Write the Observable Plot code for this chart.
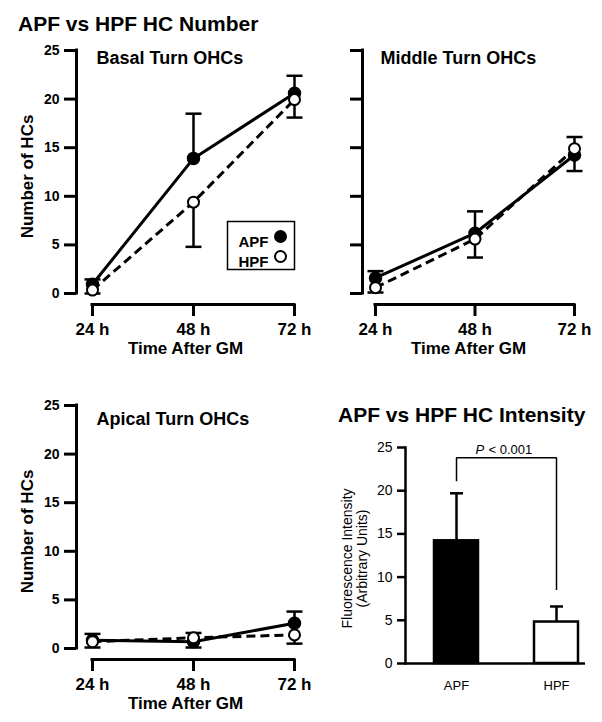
<!DOCTYPE html>
<html>
<head>
<meta charset="utf-8">
<script src="https://cdn.jsdelivr.net/npm/d3@7"></script>
<script src="https://cdn.jsdelivr.net/npm/@observablehq/plot@0.6"></script>
<style>
  html, body { margin: 0; padding: 0; background: #fff; }
  #root { position: relative; width: 602px; height: 722px; background: #fff; overflow: hidden;
          font-family: "Liberation Sans", Arial, Helvetica, sans-serif; color: #000; }
  .title { position: absolute; font-size: 21px; font-weight: bold; line-height: 21px; white-space: nowrap; }
  .panel { position: absolute; }
  .panel svg { overflow: visible; }
</style>
</head>
<body>
<div id="root">
  <div class="title" id="t1" style="left:18px; top:13px;"></div>
  <div class="title" id="t2" style="left:338px; top:404px;"></div>
  <div class="panel" id="pA" style="left:0px; top:0px;"></div>
  <div class="panel" id="pB" style="left:335px; top:0px;"></div>
  <div class="panel" id="pC" style="left:0px; top:360px;"></div>
  <div class="panel" id="pD" style="left:335px; top:360px;"></div>
</div>
<script>
// ---------- data ----------
const mainTitle = "APF vs HPF HC Number";
const barTitle = "APF vs HPF HC Intensity";
const groups = ["APF", "HPF"];
const times = [24, 48, 72];
const timeLabels = ["24 h", "48 h", "72 h"];
const yDomain = [0, 25];
const yTicks = [0, 5, 10, 15, 20, 25];
const xTitle = "Time After GM";
const yTitle = "Number of HCs";

// Basal turn (signed error: + upward bar, - downward bar)
const basalAPF = [0.95, 13.9, 20.6];
const basalAPFErr = [0.5, 4.6, 1.8];
const basalHPF = [0.35, 9.4, 19.95];
const basalHPFErr = [-0.35, -4.6, -1.85];

// Middle turn
const middleAPF = [1.6, 6.2, 14.25];
const middleAPFErr = [0.7, 2.25, -1.65];
const middleHPF = [0.6, 5.6, 14.9];
const middleHPFErr = [-0.5, -1.9, 1.2];

// Apical turn
const apicalAPF = [0.85, 0.7, 2.6];
const apicalAPFErr = [0.65, -0.6, 1.2];
const apicalHPF = [0.7, 1.1, 1.4];
const apicalHPFErr = [-0.6, 0.5, -0.9];

// Intensity bar chart
const intensity = [14.2, 4.8];
const intensityErr = [5.5, 1.8];
const barYLabel = "Fluorescence Intensity\n(Arbitrary Units)";
const pPrefix = "P";
const pText = "< 0.001";
const bracketTop = 23.8;
const bracketEnds = [21.1, 8.5];

const panelTitles = ["Basal Turn OHCs", "Middle Turn OHCs", "Apical Turn OHCs"];

// ---------- helpers ----------
const FONT = "'Liberation Sans', Arial, Helvetica, sans-serif";
const capSymbol = {
  draw(context, size) {
    const r = Math.sqrt(size / Math.PI);
    context.moveTo(-r, 0);
    context.lineTo(r, 0);
  }
};

document.getElementById("t1").textContent = mainTitle;
document.getElementById("t2").textContent = barTitle;

function linePanel(cfg) {
  const data = groups.flatMap((g, gi) =>
    times.map((t, i) => ({g, t, v: cfg.values[gi][i], e: cfg.errs[gi][i]})));
  const apf = data.filter(d => d.g === "APF");
  const hpf = data.filter(d => d.g === "HPF");
  const marks = [
    // offset axis lines
    Plot.ruleX([times[0]], {y1: yDomain[0], y2: yDomain[1], dx: -cfg.insetLeft, strokeWidth: 3, strokeLinecap: "square"}),
    Plot.ruleY([yDomain[0]], {x1: times[0], x2: times[times.length - 1], dy: cfg.insetBottom, strokeWidth: 3, strokeLinecap: "square"}),
    Plot.axisY({ticks: yTicks, tickSize: 12, tickPadding: 5, strokeWidth: 3, fontSize: 14, label: null,
                tickFormat: cfg.yLabels ? (d => String(d)) : (() => "")}),
    Plot.axisX({ticks: times, tickFormat: d => timeLabels[times.indexOf(d)], tickSize: 12, tickPadding: 6,
                strokeWidth: 3, fontSize: 17, label: null}),
    Plot.text([xTitle], {frameAnchor: "bottom", lineAnchor: "top", dy: 37, fontSize: 17}),
    Plot.text([cfg.title], {frameAnchor: "top-left", textAnchor: "start", lineAnchor: "top", dx: cfg.titleDx, dy: cfg.titleDy, fontSize: 18}),
    // series
    Plot.line(apf, {x: "t", y: "v", strokeWidth: 3}),
    Plot.line(hpf, {x: "t", y: "v", strokeWidth: 3, strokeDasharray: "9,5", strokeLinecap: "butt"}),
    Plot.ruleX(data, {x: "t", y1: "v", y2: d => d.v + d.e, strokeWidth: 2.5}),
    Plot.dot(data, {x: "t", y: d => d.v + d.e, symbol: capSymbol, r: 8, stroke: "black", strokeWidth: 2.5}),
    Plot.dot(apf, {x: "t", y: "v", r: 6, fill: "black", stroke: "black", strokeWidth: 1.5}),
    Plot.dot(hpf, {x: "t", y: "v", r: 5.5, fill: "white", stroke: "black", strokeWidth: 2})
  ];
  if (cfg.yLabels) {
    marks.push(Plot.text([yTitle], {frameAnchor: "left", textAnchor: "middle", rotate: -90, dx: -49, dy: -1, fontSize: 17}));
  }
  if (cfg.legend) {
    marks.push(Plot.frame({insetLeft: 151, insetTop: 171, insetBottom: 35, strokeWidth: 1.5}));
    groups.forEach((g, i) => {
      marks.push(Plot.text([g], {frameAnchor: "top-right", textAnchor: "end", dx: -26, dy: 186 + i * 20, fontSize: 15}));
      marks.push(Plot.dot([g], {frameAnchor: "top-right", dx: -14, dy: 186 + i * 20, r: 5.5,
        fill: i === 0 ? "black" : "white", stroke: "black", strokeWidth: 2}));
    });
  }
  return Plot.plot({
    width: cfg.width, height: cfg.height,
    marginLeft: cfg.marginLeft, marginRight: cfg.marginRight,
    marginTop: cfg.marginTop, marginBottom: cfg.marginBottom,
    x: {domain: [times[0], times[times.length - 1]], insetLeft: cfg.insetLeft, axis: null},
    y: {domain: yDomain, insetBottom: cfg.insetBottom, axis: null},
    style: {fontFamily: FONT, fontWeight: "bold", background: "transparent", color: "black", overflow: "visible"},
    marks
  });
}

document.getElementById("pA").append(linePanel({
  title: panelTitles[0], values: [basalAPF, basalHPF], errs: [basalAPFErr, basalHPFErr],
  width: 335, height: 360, marginLeft: 76, marginRight: 41, marginTop: 50, marginBottom: 56,
  insetLeft: 16, insetBottom: 11, titleDx: 20, titleDy: 1, yLabels: true, legend: true
}));

document.getElementById("pB").append(linePanel({
  title: panelTitles[1], values: [middleAPF, middleHPF], errs: [middleAPFErr, middleHPFErr],
  width: 267, height: 360, marginLeft: 27, marginRight: 28, marginTop: 50, marginBottom: 56,
  insetLeft: 13, insetBottom: 11, titleDx: 18, titleDy: 1, yLabels: false, legend: false
}));

document.getElementById("pC").append(linePanel({
  title: panelTitles[2], values: [apicalAPF, apicalHPF], errs: [apicalAPFErr, apicalHPFErr],
  width: 335, height: 362, marginLeft: 76, marginRight: 41, marginTop: 45, marginBottom: 63,
  insetLeft: 16, insetBottom: 11, titleDx: 20, titleDy: 7, yLabels: true, legend: false
}));

// ---------- bar chart ----------
const bars = groups.map((g, i) => ({g, v: intensity[i], e: intensityErr[i]}));
const bracket = [
  {g: groups[0], y: bracketEnds[0]},
  {g: groups[0], y: bracketTop},
  {g: groups[1], y: bracketTop},
  {g: groups[1], y: bracketEnds[1]}
];
document.getElementById("pD").append(Plot.plot({
  width: 267, height: 362,
  marginLeft: 70, marginRight: 17, marginTop: 87, marginBottom: 59,
  x: {domain: groups, paddingInner: 0.564, paddingOuter: 0, insetLeft: 28, insetRight: 7, axis: null},
  y: {domain: yDomain, axis: null},
  color: {domain: groups, range: ["black", "white"]},
  style: {fontFamily: FONT, fontWeight: "normal", background: "transparent", color: "black", overflow: "visible"},
  marks: [
    Plot.ruleX(bars, {x: "g", y1: "v", y2: d => d.v + d.e, strokeWidth: 2.5}),
    Plot.dot(bars, {x: "g", y: d => d.v + d.e, symbol: capSymbol, r: 6.5, stroke: "black", strokeWidth: 2.5}),
    Plot.barY(bars, {x: "g", y: "v", fill: "g", stroke: "black", strokeWidth: 2.5}),
    Plot.line(bracket, {x: "g", y: "y", strokeWidth: 1.5, strokeLinejoin: "miter", strokeLinecap: "butt"}),
    Plot.ruleY([yDomain[0]], {strokeWidth: 2.5}),
    Plot.frame({anchor: "left", strokeWidth: 2.5}),
    Plot.axisY({ticks: yTicks, tickSize: 8, tickPadding: 5, strokeWidth: 2.5, fontSize: 14, label: null}),
    Plot.axisX({tickSize: 0, tickPadding: 17, fontSize: 13, label: null}),
    Plot.text([barYLabel], {frameAnchor: "left", textAnchor: "middle", rotate: -90, dx: -51, dy: 3, fontSize: 14, lineHeight: 1.1}),
    Plot.text([pPrefix], {frameAnchor: "top-left", textAnchor: "start", dx: 70, dy: -3, fontSize: 13, fontStyle: "italic"}),
    Plot.text([pText], {frameAnchor: "top-left", textAnchor: "start", dx: 83, dy: -3, fontSize: 13})
  ]
}));
</script>
</body>
</html>
